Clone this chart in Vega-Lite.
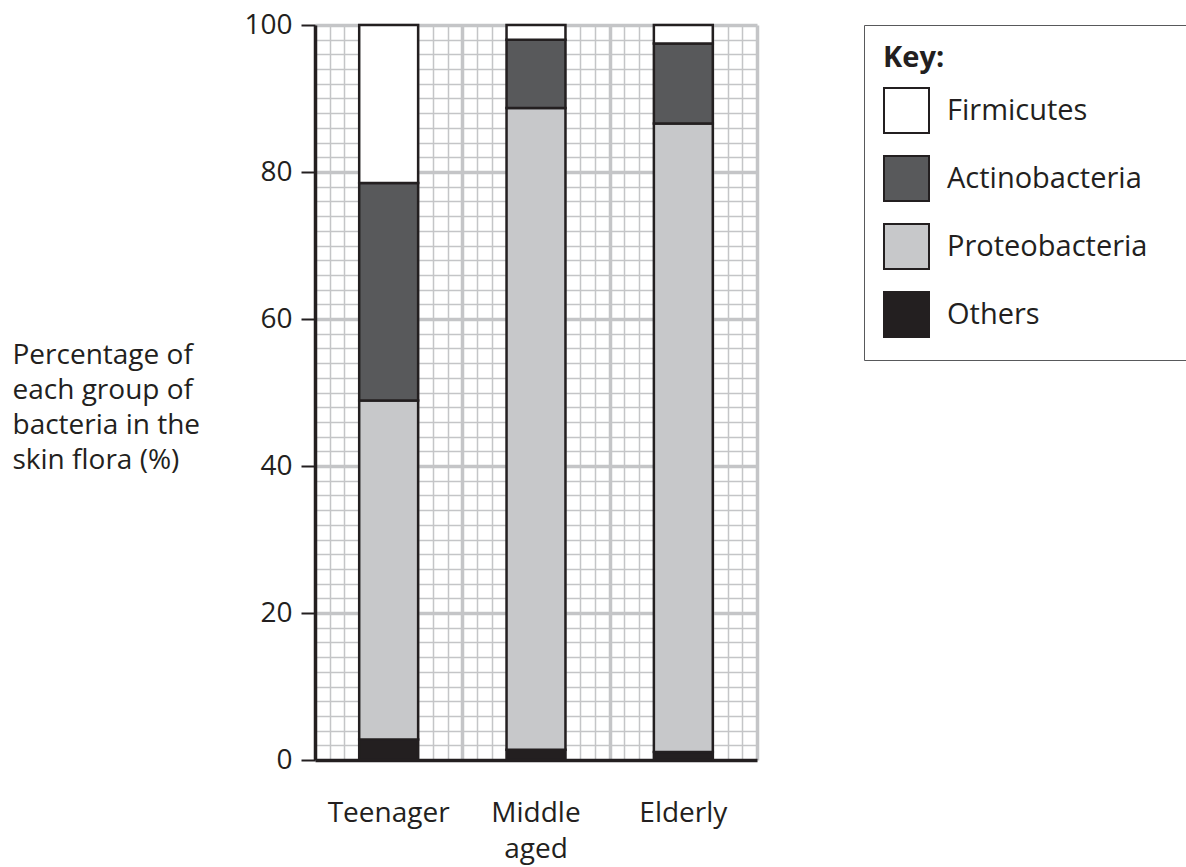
{
  "$schema": "https://vega.github.io/schema/vega-lite/v6.json",
  "autosize": {"type": "none"},
  "width": 442,
  "height": 735,
  "padding": {"left": 315, "top": 25, "right": 429, "bottom": 107},
  "background": "white",
  "config": {
    "view": {"stroke": null},
    "font": "Open Sans"
  },
  "layer": [
    {
      "data": {"values": [{"gx": 0}, {"gx": 30}]},
      "mark": {"type": "point", "opacity": 0},
      "encoding": {
        "x": {
          "field": "gx",
          "type": "quantitative",
          "scale": {"domain": [0, 30], "nice": false, "zero": false},
          "axis": {
            "orient": "top",
            "values": [1,2,3,4,5,6,7,8,9,10,11,12,13,14,15,16,17,18,19,20,21,22,23,24,25,26,27,28,29,30],
            "grid": true,
            "gridColor": "#c4c5c7",
            "gridWidth": {"expr": "datum.value % 10 === 0 ? 3.5 : 1.5"},
            "gridOpacity": 1,
            "labels": false,
            "ticks": false,
            "domain": false,
            "title": null
          }
        }
      }
    },
    {
      "data": {
        "values": [
          {"group": "Teenager", "bacteria": "Others", "ord": 1, "pct": 2.8},
          {"group": "Teenager", "bacteria": "Proteobacteria", "ord": 2, "pct": 46.1},
          {"group": "Teenager", "bacteria": "Actinobacteria", "ord": 3, "pct": 29.6},
          {"group": "Teenager", "bacteria": "Firmicutes", "ord": 4, "pct": 21.5},
          {"group": "Middle aged", "bacteria": "Others", "ord": 1, "pct": 1.4},
          {"group": "Middle aged", "bacteria": "Proteobacteria", "ord": 2, "pct": 87.3},
          {"group": "Middle aged", "bacteria": "Actinobacteria", "ord": 3, "pct": 9.3},
          {"group": "Middle aged", "bacteria": "Firmicutes", "ord": 4, "pct": 2.0},
          {"group": "Elderly", "bacteria": "Others", "ord": 1, "pct": 1.1},
          {"group": "Elderly", "bacteria": "Proteobacteria", "ord": 2, "pct": 85.5},
          {"group": "Elderly", "bacteria": "Actinobacteria", "ord": 3, "pct": 10.9},
          {"group": "Elderly", "bacteria": "Firmicutes", "ord": 4, "pct": 2.5}
        ]
      },
      "mark": {"type": "bar", "stroke": "#231f20", "strokeWidth": 2.5, "strokeJoin": "miter"},
      "encoding": {
        "x": {
          "field": "group",
          "type": "nominal",
          "sort": ["Teenager", "Middle aged", "Elderly"],
          "scale": {"paddingInner": 0.6, "paddingOuter": 0.3},
          "axis": {
            "title": null,
            "labelAngle": 0,
            "labelExpr": "split(datum.label, ' ')",
            "labelFontSize": 28,
            "labelColor": "#231f20",
            "labelLineHeight": 36,
            "labelBaseline": "top",
            "labelPadding": 39,
            "ticks": false,
            "domainColor": "#231f20",
            "domainWidth": 3.5,
            "grid": false
          }
        },
        "y": {
          "field": "pct",
          "type": "quantitative",
          "stack": "zero",
          "scale": {"domain": [0, 100], "nice": false},
          "axis": {
            "values": [0,2,4,6,8,10,12,14,16,18,20,22,24,26,28,30,32,34,36,38,40,42,44,46,48,50,52,54,56,58,60,62,64,66,68,70,72,74,76,78,80,82,84,86,88,90,92,94,96,98,100],
            "labelExpr": "datum.value % 20 === 0 ? datum.label : ''",
            "labelFontSize": 28,
            "labelColor": "#231f20",
            "labelPadding": 9,
            "tickSize": 14,
            "tickWidth": 2,
            "tickColor": "#231f20",
            "tickOpacity": {"expr": "datum.value % 20 === 0 ? 1 : 0"},
            "domainColor": "#231f20",
            "domainWidth": 3.5,
            "grid": true,
            "gridColor": "#c4c5c7",
            "gridWidth": {"expr": "datum.value % 20 === 0 ? 3.5 : 1.5"},
            "gridOpacity": {"expr": "datum.value === 0 ? 0 : 1"},
            "title": ["Percentage of", "each group of", "bacteria in the", "skin flora (%)"],
            "titleAngle": 0,
            "titleAlign": "left",
            "titleBaseline": "alphabetic",
            "titleFontSize": 28,
            "titleFontWeight": "normal",
            "titleColor": "#231f20",
            "titleLineHeight": 35,
            "titleX": -303,
            "titleY": 338
          }
        },
        "color": {
          "field": "bacteria",
          "type": "nominal",
          "scale": {
            "domain": ["Firmicutes", "Actinobacteria", "Proteobacteria", "Others"],
            "range": ["#ffffff", "#58595b", "#c7c8ca", "#231f20"]
          },
          "legend": {
            "orient": "none",
            "legendX": 549,
            "legendY": 0,
            "title": "Key:",
            "titleFontSize": 29,
            "titleFontWeight": "bold",
            "titleColor": "#231f20",
            "titlePadding": 14,
            "symbolType": "square",
            "symbolSize": 2025,
            "symbolStrokeColor": "#231f20",
            "symbolStrokeWidth": 2,
            "symbolOpacity": 1,
            "labelFontSize": 29,
            "labelColor": "#231f20",
            "labelOffset": 17,
            "labelLimit": 600,
            "labelExpr": "datum.label + '\u00a0\u00a0\u00a0\u00a0\u200b'",
            "rowPadding": 15,
            "padding": 19,
            "strokeColor": "#58595b",
            "fillColor": "white",
            "cornerRadius": 0
          }
        },
        "order": {"field": "ord", "type": "quantitative"}
      }
    }
  ],
  "resolve": {"scale": {"x": "independent"}, "axis": {"x": "independent"}}
}
